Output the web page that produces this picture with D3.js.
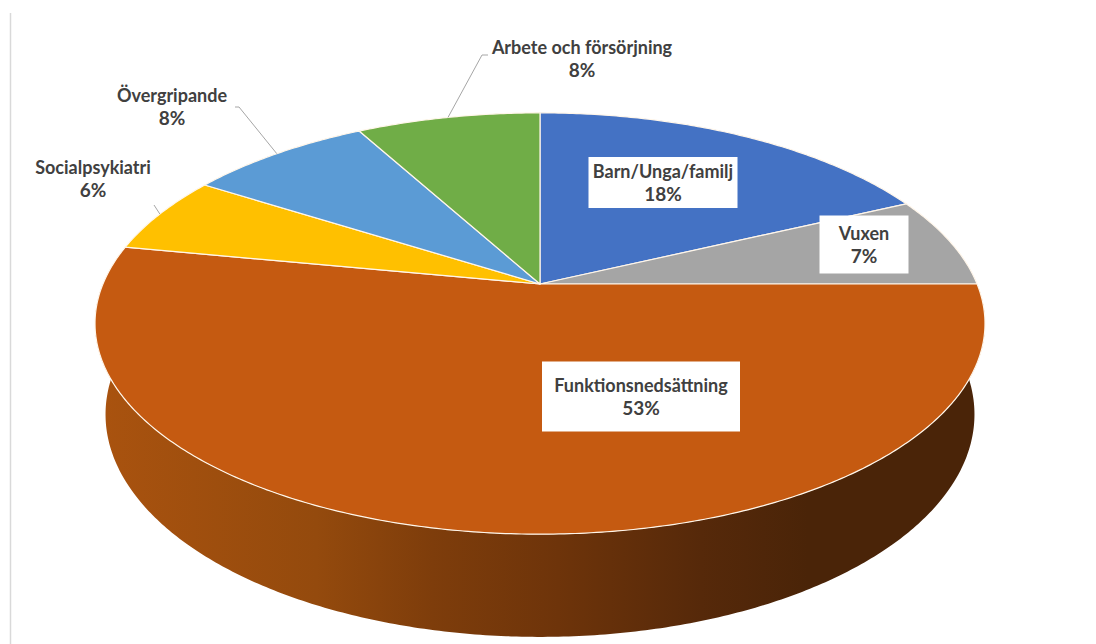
<!DOCTYPE html>
<html>
<head>
<meta charset="utf-8">
<script src="https://cdn.jsdelivr.net/npm/d3@7"></script>
<style>
  html, body { margin: 0; padding: 0; background: #fff; }
  svg { display: block; }
</style>
</head>
<body>
<div id="chart"></div>
<script>
// data
var categories = ["Barn/Unga/familj", "Vuxen", "Funktionsnedsättning", "Socialpsykiatri", "Övergripande", "Arbete och försörjning"];
var values = [18, 7, 53, 6, 8, 8];
var percentLabels = ["18%", "7%", "53%", "6%", "8%", "8%"];

// styles / layout
var colors = ["#4472c4", "#a5a5a5", "#c55a11", "#ffc000", "#5b9bd5", "#70ad47"];
// label centre x, first baseline y, box w/h (0 = no box), leader start
var labelLayout = [
    { x: 663, y: 178, bw: 149, bh: 51, leader: null },
    { x: 864, y: 240, bw: 89, bh: 58, leader: null },
    { x: 641, y: 392, bw: 198, bh: 70, leader: null },
    { x: 93, y: 174, bw: 0, bh: 0, leader: [[154, 205]] },
    { x: 172, y: 102, bw: 0, bh: 0, leader: [[235, 107], [239, 107]] },
    { x: 582, y: 54, bw: 0, bh: 0, leader: [[488, 55], [482, 55]] }
];

var full_width = 1096,
    full_height = 644;

// perspective projection of the 3d pie
var cx = 540, cy = 284,
    focal = 2063, dist = 4.72,
    sinP = 0.465, cosP = Math.sqrt(1 - 0.465 * 0.465),
    depth = 0.237;

function project(theta, yw) {
    var x = Math.sin(theta),
        z = -Math.cos(theta);
    var d = -yw * sinP + dist - z * cosP;
    var w = yw * cosP - z * sinP;
    return [cx + focal * x / d, cy - focal * w / d];
}

function arcPoints(a0, a1, yw) {
    var n = Math.max(2, Math.ceil((a1 - a0) / 0.01));
    return d3.range(n + 1).map(function(i) {
        return project(a0 + (a1 - a0) * i / n, yw);
    });
}

var pie = d3.pie().sort(null).value(function(d) { return d; });
var arcs = pie(values);

var svg = d3.select("#chart").append("svg")
    .attr("width", full_width)
    .attr("height", full_height);

// left border line
svg.append("line")
    .attr("x1", 10.5).attr("x2", 10.5)
    .attr("y1", 13).attr("y2", full_height)
    .attr("stroke", "#d9d9d9")
    .attr("stroke-width", 1.5);

var defs = svg.append("defs");
var grad = defs.append("linearGradient")
    .attr("id", "sideGrad")
    .attr("gradientUnits", "userSpaceOnUse")
    .attr("x1", 93).attr("x2", 987)
    .attr("y1", 0).attr("y2", 0);
[[0, "#aa530f"], [0.25, "#944a0d"], [0.38, "#7e3d0b"], [0.52, "#6e340a"],
 [0.68, "#56290a"], [0.8, "#4a2408"], [1, "#4a2408"]].forEach(function(s) {
    grad.append("stop").attr("offset", s[0]).attr("stop-color", s[1]);
});

var line = d3.line();

// side walls (front half only)
var front0 = Math.PI / 2, front1 = 3 * Math.PI / 2;
arcs.forEach(function(a, i) {
    var s = Math.max(a.startAngle, front0),
        e = Math.min(a.endAngle, front1);
    if (e <= s) return;
    var top = arcPoints(s, e, 0),
        bottom = arcPoints(s, e, -depth).reverse();
    svg.append("path")
        .attr("d", line(top.concat(bottom)) + "Z")
        .attr("fill", i === 2 ? "url(#sideGrad)" : d3.color(colors[i]).darker(1));
});

// top faces
var g = svg.append("g");
arcs.forEach(function(a, i) {
    var pts = [[cx, cy]].concat(arcPoints(a.startAngle, a.endAngle, 0));
    g.append("path")
        .attr("d", line(pts) + "Z")
        .attr("fill", colors[i])
        .attr("stroke", "#fff6ea")
        .attr("stroke-width", 1.2)
        .attr("stroke-linejoin", "round");
});

// leader lines
arcs.forEach(function(a, i) {
    var lay = labelLayout[i];
    if (!lay.leader) return;
    var mid = (a.startAngle + a.endAngle) / 2;
    var pts = lay.leader.concat([project(mid, 0)]);
    svg.append("path")
        .attr("d", line(pts))
        .attr("fill", "none")
        .attr("stroke", "#a6a6a6")
        .attr("stroke-width", 1);
});

// labels
arcs.forEach(function(a, i) {
    var lay = labelLayout[i];
    if (lay.bw) {
        svg.append("rect")
            .attr("x", lay.x - lay.bw / 2)
            .attr("y", lay.y - 21 - (lay.bh - 51) / 2)
            .attr("width", lay.bw)
            .attr("height", lay.bh)
            .attr("fill", "#fff");
    }
    var t = svg.append("text")
        .attr("text-anchor", "middle")
        .style("font-family", "Lato, 'Open Sans', sans-serif")
        .style("font-weight", "bold")
        .style("font-size", "18px")
        .attr("fill", "#404040");
    t.append("tspan").attr("x", lay.x).attr("y", lay.y).text(categories[i]);
    t.append("tspan").attr("x", lay.x).attr("y", lay.y + 23).style("font-size", "19px").text(percentLabels[i]);
});
</script>
</body>
</html>
